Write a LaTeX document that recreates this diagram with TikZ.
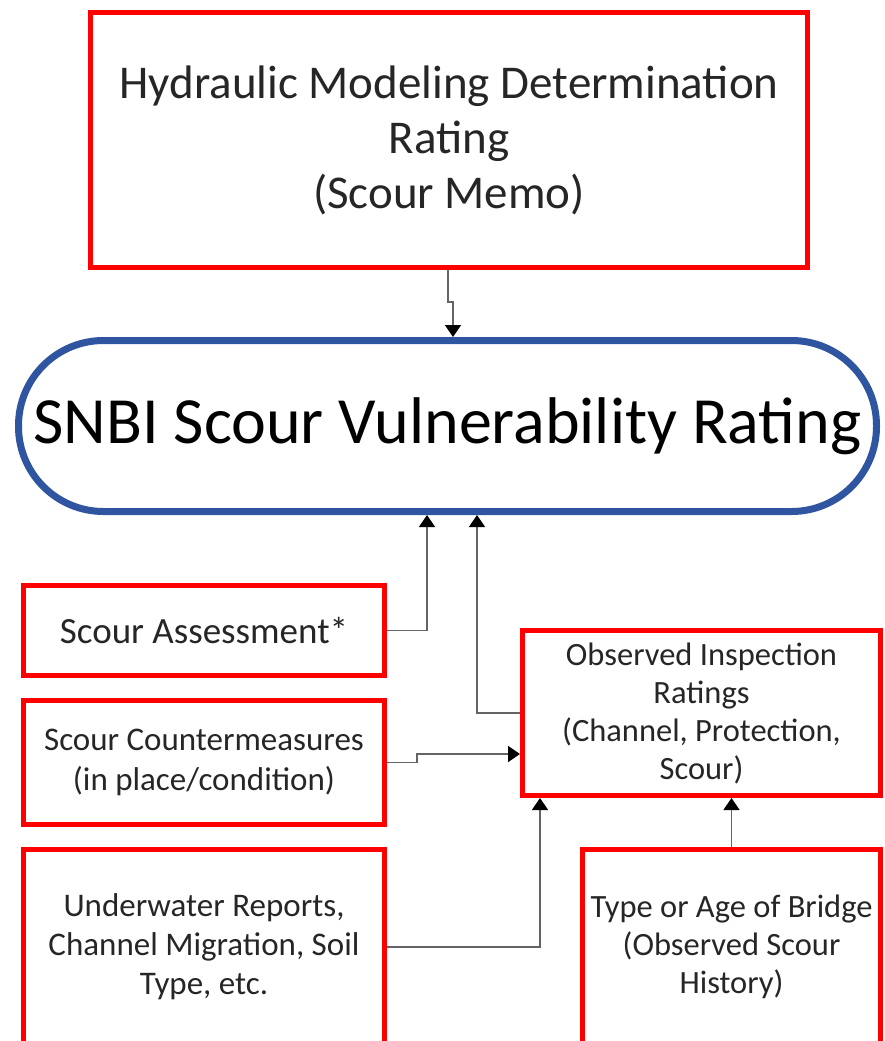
\documentclass[tikz,border=0pt]{standalone}
\usepackage{fontspec}
\setmainfont{Carlito}
\usepackage{xcolor}
\definecolor{boxred}{RGB}{255,0,0}
\definecolor{ovblue}{RGB}{47,84,160}
\definecolor{txtgray}{RGB}{38,38,38}
\definecolor{lngray}{RGB}{100,100,100}
\usepackage{tikz}
\usetikzlibrary{arrows.meta,positioning,calc}

\begin{document}
\begin{tikzpicture}[x=1pt,y=-1pt,
  box/.style={draw=boxred,line width=5pt,fill=white,align=center,text=txtgray,
    inner sep=0pt},
  oval/.style={draw=ovblue,line width=7pt,fill=white,rounded corners=85pt,
    align=center,text=black,inner sep=0pt},
  arr/.style={-{Triangle[length=12pt,width=16pt,black]},lngray,line width=1.5pt}]
  \useasboundingbox (0,0) rectangle (885,1041);
  \node[box,minimum width=717pt,minimum height=255pt,
    font=\fontsize{47}{55}\selectfont](hmd) at (449,140)
    {Hydraulic Modeling Determination\\Rating\\(Scour Memo)};
  \node[oval,minimum width=858pt,minimum height=171pt,
    font=\fontsize{66}{80}\selectfont](snbi) at (447.5,426)
    {SNBI Scour Vulnerability Rating};
  \node[box,minimum width=361pt,minimum height=90pt,
    font=\fontsize{37}{45}\selectfont](sa) at (204,630.5) {Scour Assessment*};
  \node[box,minimum width=361pt,minimum height=124pt,
    font=\fontsize{33}{40}\selectfont](scm) at (204,762.5)
    {Scour Countermeasures\\(in place/condition)};
  \node[box,minimum width=361pt,minimum height=195pt,
    font=\fontsize{33}{39}\selectfont](uw) at (204,947)
    {Underwater Reports,\\Channel Migration, Soil\\Type, etc.};
  \node[box,minimum width=358pt,minimum height=165pt,
    font=\fontsize{32.5}{38}\selectfont](obs) at (701.5,713)
    {Observed Inspection\\Ratings\\(Channel, Protection,\\Scour)};
  \node[box,minimum width=298pt,minimum height=195pt,
    font=\fontsize{32.5}{38}\selectfont](tab) at (731.5,947)
    {Type or Age of Bridge\\(Observed Scour\\History)};
  \draw[arr]([xshift=-1pt]hmd.south)--++(0,32)-|([xshift=5.5pt]snbi.north);
  \draw[arr](sa.east)-|([xshift=-20.5pt]snbi.south);
  \draw[arr](obs.west)-|([xshift=29.5pt]snbi.south);
  \draw[arr](scm.east)--++(30,0)|-([yshift=-41pt]obs.west);
  \draw[arr](uw.east)-|([xshift=-161.5pt]obs.south);
  \draw[arr](tab.north)--(tab.north|-obs.south);
\end{tikzpicture}
\end{document}
